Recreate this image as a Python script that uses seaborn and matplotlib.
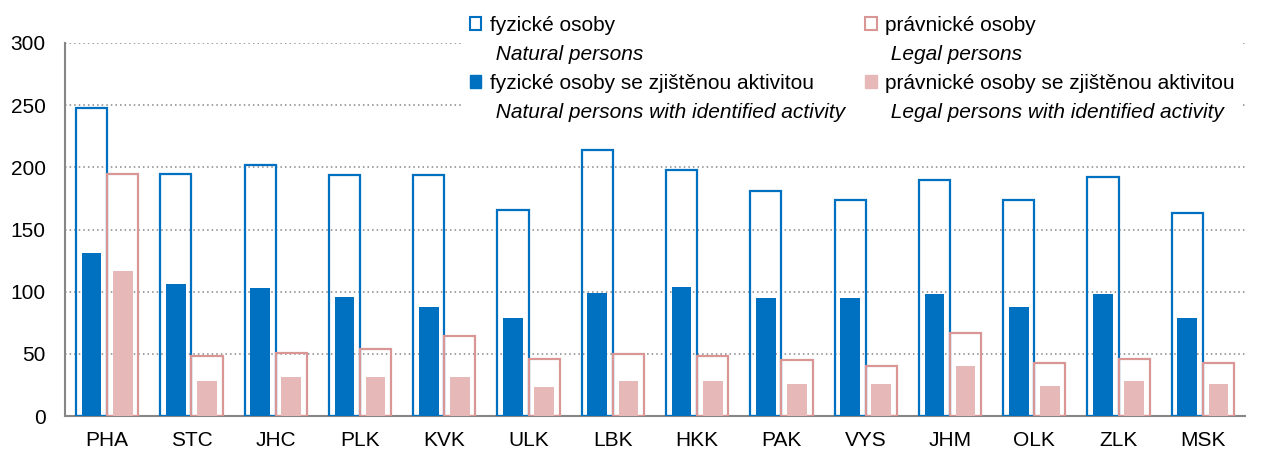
import matplotlib
matplotlib.use("Agg")
import matplotlib.pyplot as plt
import matplotlib.patches as mpatches
from matplotlib.ticker import MultipleLocator
import numpy as np
import pandas as pd
import seaborn as sns

# Data
regions = ["PHA", "STC", "JHC", "PLK", "KVK", "ULK", "LBK",
           "HKK", "PAK", "VYS", "JHM", "OLK", "ZLK", "MSK"]
natural = [248, 195, 202, 194, 194, 166, 214, 198, 181, 174, 190, 174, 192, 163]
legal = [195, 48, 51, 54, 64, 46, 50, 48, 45, 40, 67, 43, 46, 43]
natural_active = [131, 106, 103, 96, 88, 79, 99, 104, 95, 95, 98, 88, 98, 79]
legal_active = [117, 28, 31, 31, 31, 23, 28, 28, 26, 26, 40, 24, 28, 26]

BLUE = "#0070C0"
PINK_EDGE = "#D99694"
PINK_FILL = "#E6B9B8"
GRAY = "#868686"

total_df = pd.DataFrame({
    "region": regions * 2,
    "value": natural + legal,
    "group": ["natural"] * len(regions) + ["legal"] * len(regions),
})
active_df = pd.DataFrame({
    "region": regions * 2,
    "value": natural_active + legal_active,
    "group": ["natural"] * len(regions) + ["legal"] * len(regions),
})

sns.set_style("white", {"text.color": "black", "xtick.color": "black",
                        "ytick.color": "black", "axes.labelcolor": "black"})
plt.rcParams["font.family"] = ["Liberation Sans", "DejaVu Sans"]

fig = plt.figure(figsize=(12.71, 4.53), dpi=100)
ax = fig.add_axes([65 / 1271, 37 / 453, 1180 / 1271, 373 / 453])

# Outline bars (all persons)
sns.barplot(data=total_df, x="region", y="value", hue="group",
            palette={"natural": BLUE, "legal": PINK_EDGE},
            width=0.74, fill=False, linewidth=1.6, errorbar=None,
            legend=False, ax=ax, zorder=3)
# Filled bars (with identified activity), same slots but narrower
sns.barplot(data=active_df, x="region", y="value", hue="group",
            palette={"natural": BLUE, "legal": PINK_FILL},
            width=0.74, gap=0.37, linewidth=0, saturation=1,
            errorbar=None, legend=False, ax=ax, zorder=4)

ax.set_xlim(-0.5, len(regions) - 0.5)
ax.set_ylim(0, 300)
ax.yaxis.set_major_locator(MultipleLocator(50))
ax.set_xlabel("")
ax.set_ylabel("")

ax.grid(axis="y", color=GRAY, linestyle=(0, (1, 2)), linewidth=1.1, zorder=0)
ax.set_axisbelow(True)

for s in ["top", "right"]:
    ax.spines[s].set_visible(False)
for s in ["left", "bottom"]:
    ax.spines[s].set_color(GRAY)
    ax.spines[s].set_linewidth(1.5)

ax.tick_params(axis="x", which="major", length=0, labelsize=15, pad=11)
ax.set_xticks(np.arange(-0.5, len(regions) + 0.5, 1), minor=True)
ax.tick_params(axis="x", which="minor", length=5, width=1.5, color=GRAY, direction="out")
ax.tick_params(axis="y", length=5, width=1.5, color=GRAY, direction="out", labelsize=15, pad=9)

# Legend: Czech label with italic English line below (white box hides gridlines)
blank = mpatches.Patch(visible=False)
handles = [
    mpatches.Patch(facecolor="white", edgecolor=BLUE, linewidth=1.5), blank,
    mpatches.Patch(facecolor=BLUE, edgecolor=BLUE), blank,
    mpatches.Patch(facecolor="white", edgecolor=PINK_EDGE, linewidth=1.5), blank,
    mpatches.Patch(facecolor=PINK_FILL, edgecolor=PINK_FILL), blank,
]
labels = [
    "fyzické osoby", " Natural persons",
    "fyzické osoby se zjištěnou aktivitou", " Natural persons with identified activity",
    "právnické osoby", " Legal persons",
    "právnické osoby se zjištěnou aktivitou", " Legal persons with identified activity",
]
leg = fig.legend(handles, labels, ncol=2, loc="upper left",
                 bbox_to_anchor=(451 / 1271, 1 + 3 / 453),
                 frameon=True, fancybox=False, framealpha=1,
                 facecolor="white", edgecolor="none",
                 fontsize=15, handlelength=0.55, handleheight=0.55,
                 handletextpad=0.4, labelspacing=0.48, columnspacing=0.98)
for i, t in enumerate(leg.get_texts()):
    if i % 2 == 1:
        t.set_style("italic")

fig.savefig("out.png", dpi=100)
